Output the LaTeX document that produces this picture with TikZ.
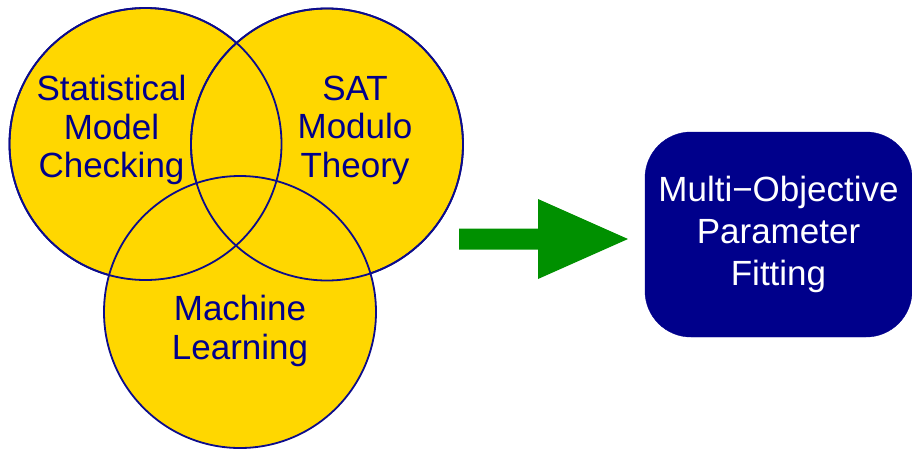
\documentclass[tikz,border=0pt]{standalone}
\usepackage{fontspec}
\setmainfont{Liberation Sans}
\definecolor{venny}{HTML}{FFD700}
\definecolor{vennline}{HTML}{0C0C8C}
\definecolor{boxblue}{HTML}{00008B}
\definecolor{arrgreen}{HTML}{009000}
\tikzset{
  venncircle/.style={circle, fill=venny, draw=vennline, line width=1.8pt, minimum size=272pt, inner sep=0pt},
  venntext/.style={text=boxblue, align=center, inner sep=0pt, font=\fontsize{35}{38.5}\selectfont},
  resultbox/.style={fill=boxblue, draw=boxblue, rounded corners=46pt, minimum width=267pt, minimum height=205pt, inner sep=0pt,
    text=white, align=center, font=\fontsize{35}{42}\selectfont},
}
\begin{document}
\begin{tikzpicture}[x=1pt,y=-1pt]
\useasboundingbox (0,0) rectangle (912,450);
\node[venncircle] (cA) at (145.5,144) {};
\node[venncircle] (cB) at (327,144.5) {};
\node[venncircle] (cC) at (240,312) {};
% redraw outlines so all circles show over fills
\draw[vennline, line width=1.8pt] (cA.center) circle[radius=136pt];
\draw[vennline, line width=1.8pt] (cB.center) circle[radius=136pt];
\node[venntext] (tA) at (111.5,130) {Statistical\\Model\\Checking};
\node[venntext] (tB) at (355,130) {SAT\\Modulo\\Theory};
\node[venntext] (tC) at (240,331) {Machine\\Learning};
\node[resultbox] (res) at (778.5,234.5) {Multi\textminus Objective\\Parameter\\Fitting};
\coordinate (aS) at (459,239);
\coordinate (aT) at (628,239);
\fill[arrgreen] (aS) ++(0,-10.5) -- ++(79,0) -- ++(0,-29.5) -- (aT) -- (538,279) -- ++(0,-29.5) -- ++(-79,0) -- cycle;
\end{tikzpicture}
\end{document}
